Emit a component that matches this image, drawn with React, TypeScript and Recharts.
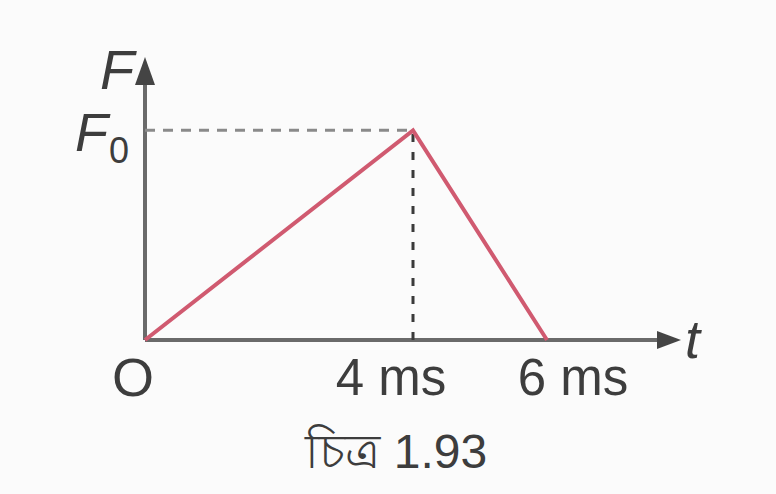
import React from "react";
import { LineChart, Line, XAxis, YAxis, ReferenceLine, ReferenceDot } from "recharts";

const times = [0, 4, 6];
const forces = [0, 1, 0];
const tickValues = [4, 6];
const tickLabels = ["4 ms", "6 ms"];
const peakTime = 4;
const peakForce = 1;
const xMax = 8;
const yMax = 1.35;
const caption = "চিত্র 1.93";

const data = times.map((t, i) => ({ t, F: forces[i] }));

const FONT = "'Liberation Sans', Arial, Helvetica, sans-serif";
const INK = "#3d3d3d";
const AXIS = "#6a6a6a";

const tickOffsets: Record<number, number> = { 4: -22, 6: 26 };

const TextAt = (txt: string, dx: number, dy: number, size: number, opts: any = {}) => (props: any) => (
  <text
    x={props.cx + dx}
    y={props.cy + dy}
    fontFamily={FONT}
    fontSize={size}
    fill={INK}
    textAnchor={opts.anchor || "middle"}
    fontStyle={opts.italic ? "italic" : "normal"}
  >
    {txt}
  </text>
);

const ArrowRight = (props: any) => (
  <polygon
    points={`${props.cx},${props.cy} ${props.cx - 24},${props.cy - 9} ${props.cx - 24},${props.cy + 9}`}
    fill="#444"
  />
);
const ArrowUp = (props: any) => (
  <polygon
    points={`${props.cx},${props.cy} ${props.cx - 10},${props.cy + 28} ${props.cx + 10},${props.cy + 28}`}
    fill="#444"
  />
);

const F0Label = (props: any) => (
  <text x={props.cx - 70} y={props.cy + 21} fontFamily={FONT} fill={INK}>
    <tspan fontSize={54} fontStyle="italic">F</tspan>
    <tspan fontSize={36} dx={1} dy={12}>0</tspan>
  </text>
);

export default function App() {
  return (
    <div style={{ position: "absolute", left: 0, top: 0, width: 776, height: 494, background: "#fbfbfb" }}>
      <LineChart
        width={776}
        height={494}
        data={data}
        margin={{ top: 57, right: 95, bottom: 154, left: 145 }}
      >
        <XAxis dataKey="t" type="number" domain={[0, xMax]} hide />
        <YAxis type="number" domain={[0, yMax]} hide />
        <ReferenceLine
          segment={[{ x: 0, y: 0 }, { x: xMax - 0.2, y: 0 }]}
          stroke={AXIS}
          strokeWidth={4}
        />
        <ReferenceLine
          segment={[{ x: 0, y: 0 }, { x: 0, y: yMax - 0.05 }]}
          stroke={AXIS}
          strokeWidth={4}
        />
        <ReferenceLine
          segment={[{ x: 0, y: peakForce }, { x: peakTime, y: peakForce }]}
          stroke="#8a8a8a"
          strokeWidth={3}
          strokeDasharray="10 8"
        />
        <ReferenceLine
          segment={[{ x: peakTime, y: 0 }, { x: peakTime, y: peakForce }]}
          stroke="#3a3a3a"
          strokeWidth={3}
          strokeDasharray="8 10"
        />
        <Line
          dataKey="F"
          type="linear"
          stroke="#d05a70"
          strokeWidth={4}
          dot={false}
          isAnimationActive={false}
        />
        <ReferenceDot x={xMax} y={0} r={0} shape={ArrowRight} />
        <ReferenceDot x={0} y={yMax} r={0} shape={ArrowUp} />
        {tickValues.map((v, i) => (
          <ReferenceDot key={v} x={v} y={0} r={0} shape={TextAt(tickLabels[i], tickOffsets[v], 55, 51)} />
        ))}
        <ReferenceDot x={0} y={0} r={0} shape={TextAt("O", -12, 56, 54)} />
        <ReferenceDot x={xMax} y={0} r={0} shape={TextAt("t", 4, 18, 54, { anchor: "start", italic: true })} />
        <ReferenceDot x={0} y={yMax} r={0} shape={TextAt("F", -28, 32, 56, { italic: true })} />
        <ReferenceDot x={0} y={peakForce} r={0} shape={F0Label} />
        <ReferenceDot x={3.75} y={0} r={0} shape={TextAt(caption, 0, 128, 48)} />
      </LineChart>
    </div>
  );
}
